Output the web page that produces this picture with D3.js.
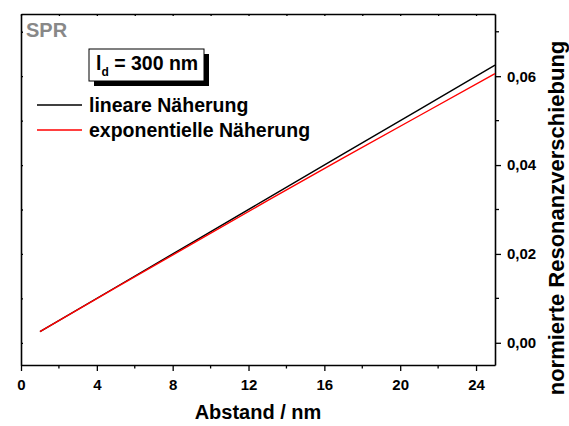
<!DOCTYPE html>
<html>
<head>
<meta charset="utf-8">
<script src="https://cdn.jsdelivr.net/npm/d3@7"></script>
<style>
  body { margin: 0; background: #fff; }
  svg { display: block; font-family: Arial, "Liberation Sans", sans-serif; font-weight: bold; }
</style>
</head>
<body>
<svg id="chart" width="569" height="426"></svg>
<script>
// Abstand (nm) and normalised resonance shift
const distance = [1, 5, 9, 13, 17, 21, 25];
const linearShift = [0.0025, 0.0125, 0.0225, 0.0325, 0.0425, 0.0525, 0.0625];
const expShift = [0.0025, 0.0124, 0.0222, 0.0320, 0.0416, 0.0511, 0.0606];

const xTicks = [0, 4, 8, 12, 16, 20, 24];
const xMinor = [2, 6, 10, 14, 18, 22];
const yTicks = [0, 0.02, 0.04, 0.06];
const yMinor = [0.01, 0.03, 0.05, 0.07];

const seriesNames = ['lineare Näherung', 'exponentielle Näherung'];
const seriesColors = ['#000000', '#ff0000'];

const svg = d3.select('#chart');
const margin = { top: 14, right: 74, bottom: 61, left: 21 };
const width = 569 - margin.left - margin.right;
const height = 426 - margin.top - margin.bottom;

const x = d3.scaleLinear().domain([0, 25]).range([0, width]);
const y = d3.scaleLinear().domain([-0.005, 0.074]).range([height, 0]);

const g = svg.append('g')
    .attr('transform', `translate(${margin.left}, ${margin.top})`);

const fmt = d => d3.format('.2f')(d).replace('.', ',');

// Bottom axis
const axBottom = g.append('g')
    .attr('transform', `translate(0, ${height})`)
    .call(d3.axisBottom(x).tickValues(xTicks).tickSize(6).tickSizeOuter(0).tickPadding(8));
axBottom.append('g').selectAll('line')
    .data(xMinor).enter().append('line')
    .attr('x1', d => x(d)).attr('x2', d => x(d))
    .attr('y1', 0).attr('y2', 3.5)
    .attr('stroke', '#000').attr('stroke-width', 1.3);

// Right axis
const axRight = g.append('g')
    .attr('transform', `translate(${width}, 0)`)
    .call(d3.axisRight(y).tickValues(yTicks).tickFormat(fmt).tickSize(6).tickSizeOuter(0).tickPadding(6));
axRight.append('g').selectAll('line')
    .data(yMinor).enter().append('line')
    .attr('x1', 0).attr('x2', 4)
    .attr('y1', d => y(d)).attr('y2', d => y(d))
    .attr('stroke', '#000').attr('stroke-width', 1.3);

// Top and left axes: only small inward ticks
const axTop = g.append('g')
    .call(d3.axisTop(x).tickValues(xTicks.concat(xMinor)).tickSize(-2).tickSizeOuter(0).tickFormat(''));
const axLeft = g.append('g')
    .call(d3.axisLeft(y).tickValues(yTicks.concat(yMinor)).tickSize(-2).tickSizeOuter(0).tickFormat(''));

[axBottom, axRight, axTop, axLeft].forEach(a => {
    a.select('.domain').attr('stroke', '#000').attr('stroke-width', 1.6);
    a.selectAll('.tick line').attr('stroke', '#000').attr('stroke-width', 1.3);
    a.selectAll('.tick text')
        .attr('fill', '#000')
        .attr('font-size', '15px')
        .attr('font-weight', 'bold')
        .attr('font-family', 'Arial, "Liberation Sans", sans-serif');
});

// Lines
const line = (vals) => d3.line()
    .x((d, i) => x(distance[i]))
    .y(d => y(d))(vals);

[linearShift, expShift].forEach((vals, i) => {
    g.append('path')
        .attr('d', line(vals))
        .attr('fill', 'none')
        .attr('stroke', seriesColors[i])
        .attr('stroke-width', 1.4);
});

// SPR label
g.append('text')
    .attr('x', 5)
    .attr('y', 22.5)
    .attr('fill', '#888')
    .attr('font-size', '20px')
    .text('SPR');

// l_d box with shadow
const boxX = 68, boxY = 35, boxW = 115, boxH = 32;
g.append('rect')
    .attr('x', boxX + 5).attr('y', boxY + 5)
    .attr('width', boxW).attr('height', boxH)
    .attr('fill', '#000');
g.append('rect')
    .attr('x', boxX).attr('y', boxY)
    .attr('width', boxW).attr('height', boxH)
    .attr('fill', '#fff')
    .attr('stroke', '#000')
    .attr('stroke-width', 1);
const ld = g.append('text')
    .attr('x', boxX + 7)
    .attr('y', boxY + 21)
    .attr('font-size', '19.5px');
ld.append('tspan').text('l');
ld.append('tspan').attr('font-size', '12px').attr('dy', 6).text('d');
ld.append('tspan').attr('dy', -6).text(' = 300 nm');

// Legend
const legend = g.append('g')
    .attr('transform', 'translate(16, 91)');
const items = legend.selectAll('.legend-item')
    .data(seriesNames)
    .enter().append('g')
    .attr('class', 'legend-item')
    .attr('transform', (d, i) => `translate(0, ${i * 25})`);
items.append('line')
    .attr('x1', 0).attr('x2', 45)
    .attr('y1', 0).attr('y2', 0)
    .attr('stroke', (d, i) => seriesColors[i])
    .attr('stroke-width', 1.4);
items.append('text')
    .attr('x', 52)
    .attr('y', 7)
    .attr('font-size', '19.5px')
    .text(d => d);

// Axis titles
svg.append('text')
    .attr('x', margin.left + x(12.5))
    .attr('y', 419)
    .attr('text-anchor', 'middle')
    .attr('font-size', '20px')
    .text('Abstand / nm');

svg.append('text')
    .attr('transform', `translate(564, 218) rotate(-90)`)
    .attr('text-anchor', 'middle')
    .attr('font-size', '22px')
    .text('normierte Resonanzverschiebung');
</script>
</body>
</html>
